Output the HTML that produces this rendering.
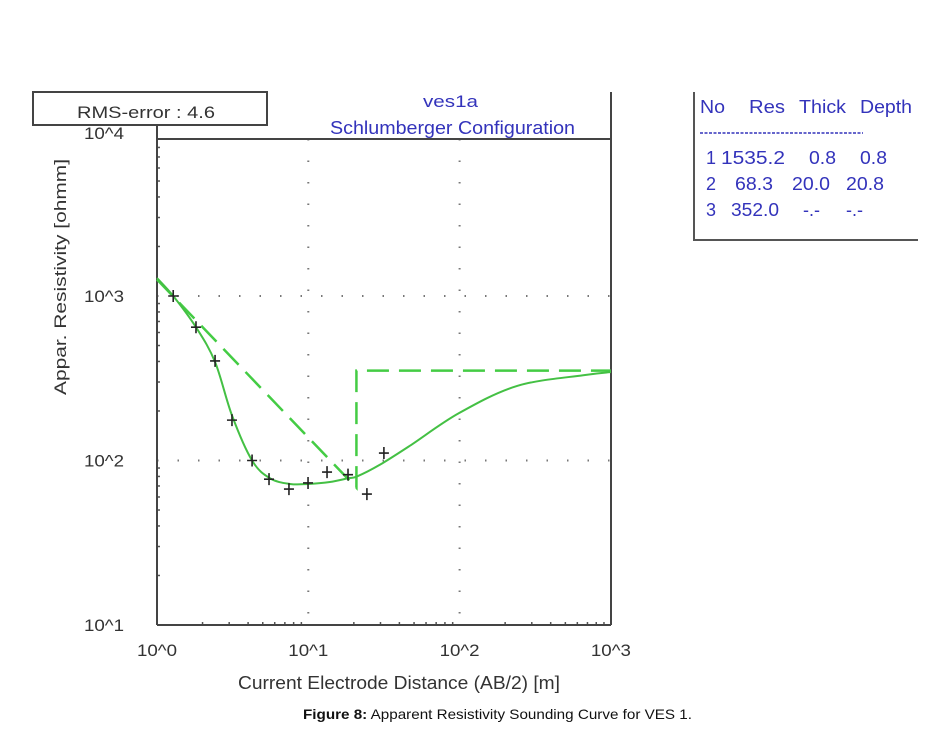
<!DOCTYPE html>
<html><head><meta charset="utf-8"><style>
body{margin:0;background:#fff;}
svg{display:block;font-family:"Liberation Sans",sans-serif;}
</style></head><body>
<svg width="935" height="737" viewBox="0 0 935 737">
<g id="static">
  <rect x="33" y="92" width="234" height="33" fill="#fff" stroke="#444" stroke-width="2"/>
  <text x="77" y="118" font-size="17" textLength="138" lengthAdjust="spacingAndGlyphs" fill="#333">RMS-error :   4.6</text>
  <text x="423" y="107" font-size="17" textLength="55" lengthAdjust="spacingAndGlyphs" fill="#3333bb">ves1a</text>
  <text x="330" y="134" font-size="18" textLength="245" lengthAdjust="spacingAndGlyphs" fill="#3333bb">Schlumberger Configuration</text>
  <text x="66" y="395" font-size="17" textLength="236" lengthAdjust="spacingAndGlyphs" fill="#333" transform="rotate(-90 66 395)">Appar. Resistivity [ohmm]</text>
  <text x="238" y="689" font-size="18" textLength="322" lengthAdjust="spacingAndGlyphs" fill="#333">Current Electrode Distance (AB/2) [m]</text>
  <text x="303" y="719" font-size="14" textLength="389" lengthAdjust="spacingAndGlyphs" fill="#111"><tspan font-weight="bold">Figure 8:</tspan> Apparent Resistivity Sounding Curve for VES 1.</text>
  <g fill="#3333bb" font-size="18" lengthAdjust="spacingAndGlyphs">
    <line x1="694" y1="92" x2="694" y2="241" stroke="#555" stroke-width="2"/>
    <line x1="694" y1="240" x2="918" y2="240" stroke="#555" stroke-width="2"/>
    <text x="700" y="113" textLength="25" lengthAdjust="spacingAndGlyphs">No</text><text x="749" y="113" textLength="36" lengthAdjust="spacingAndGlyphs">Res</text><text x="799" y="113" textLength="47" lengthAdjust="spacingAndGlyphs">Thick</text><text x="860" y="113" textLength="52" lengthAdjust="spacingAndGlyphs">Depth</text>
    <line x1="700" y1="133" x2="863" y2="133" stroke="#3333bb" stroke-width="1.5" stroke-dasharray="3,1.5"/>
    <text x="706" y="164">1</text><text x="721" y="164" textLength="64" lengthAdjust="spacingAndGlyphs">1535.2</text><text x="809" y="164" textLength="27" lengthAdjust="spacingAndGlyphs">0.8</text><text x="860" y="164" textLength="27" lengthAdjust="spacingAndGlyphs">0.8</text>
    <text x="706" y="190">2</text><text x="735" y="190" textLength="38" lengthAdjust="spacingAndGlyphs">68.3</text><text x="792" y="190" textLength="38" lengthAdjust="spacingAndGlyphs">20.0</text><text x="846" y="190" textLength="38" lengthAdjust="spacingAndGlyphs">20.8</text>
    <text x="706" y="216">3</text><text x="731" y="216" textLength="48" lengthAdjust="spacingAndGlyphs">352.0</text><text x="803" y="216">-.-</text><text x="846" y="216">-.-</text>
  </g>
</g>
<g id="plot"></g>
</svg>
<script>
const xDecades=[0,1,2,3];
const yDecades=[1,2,3,4];
const xTickLabels=["10^0","10^1","10^2","10^3"];
const yTickLabels=["10^1","10^2","10^3","10^4"];
const obsX=[1.28,1.81,2.42,3.13,4.25,5.5,7.45,9.96,13.3,18.3,24.4,31.6];
const obsRho=[1000,646,403,176,100,77,67,73,85,82,62.5,111];
const modelX=[1,1.28,1.81,2.42,3.13,4.25,5.58,7.57,9.96,13.9,18.3,21,29.6,47,99,240,656,1000];
const modelRho=[1285,1000,646,397,188,100,78,72,72,74,78,80,94,123,194,284,330,345];
const layerX=[1,20.8,20.8,1000];
const layerRho=[1260,68.3,352,352];

const L=157,R=611,B=625,XD=151.3,YD=164.5;
const sx=v=>L+Math.log10(v)*XD;
const sy=v=>B-(Math.log10(v)-1)*YD;
const g=document.getElementById('plot');
const NS='http://www.w3.org/2000/svg';
function mk(t,a){const e=document.createElementNS(NS,t);for(const k in a)e.setAttribute(k,a[k]);g.appendChild(e);return e;}

xDecades.slice(1,3).forEach(d=>{
  const e=mk('line',{x1:L+d*XD,x2:L+d*XD,y1:139,y2:B,stroke:'#777','stroke-width':2,'stroke-dasharray':'1.5,20'});
  
  
});
yDecades.slice(1,3).forEach(d=>{
  const y=B-(d-1)*YD;
  const e=mk('line',{x1:L,x2:R,y1:y,y2:y,stroke:'#777','stroke-width':2,'stroke-dasharray':'1.5,19'});
  
  
});
for(let d=1;d<4;d++)for(let m=2;m<=9;m++){
  const y=B-(d-1+Math.log10(m))*YD;
  if(y<139)continue;
  const e=mk('line',{x1:L,x2:L+3,y1:y,y2:y,stroke:'#555','stroke-width':1.5});
  
  
}
for(let d=0;d<3;d++)for(let m=2;m<=9;m++){
  const x=L+(d+Math.log10(m))*XD;
  const e=mk('line',{x1:x,x2:x,y1:B,y2:B-3,stroke:'#555','stroke-width':1.5});
  
  
}
[[L,125,L,B],[L,B,R,B],[R,92,R,B],[L,139,R,139]].forEach(a=>{
  const e=mk('line',{x1:a[0],y1:a[1],x2:a[2],y2:a[3],stroke:'#444','stroke-width':2});
  
  
});
xDecades.forEach((d,i)=>{
  const t=mk('text',{x:L+d*XD-20,y:656,'font-size':17,textLength:40,lengthAdjust:'spacingAndGlyphs',fill:'#333'});
  t.textContent=xTickLabels[i];
  
  
});
yDecades.forEach((d,i)=>{
  const y=B-(d-1)*YD;
  const t=mk('text',{x:84,y:Math.max(y+6,139),'font-size':17,textLength:40,lengthAdjust:'spacingAndGlyphs',fill:'#333'});
  t.textContent=yTickLabels[i];
  
  
});
const lp=mk('polyline',{points:layerX.map((x,i)=>sx(x)+','+sy(layerRho[i])).join(' '),fill:'none',stroke:'#4c4','stroke-width':2.5,'stroke-dasharray':'22,10'});


// smooth model curve (Catmull-Rom)
const P=modelX.map((x,i)=>[sx(x),sy(modelRho[i])]);
let d='M'+P[0][0]+' '+P[0][1];
for(let i=0;i<P.length-1;i++){
  const p0=P[Math.max(i-1,0)],p1=P[i],p2=P[i+1],p3=P[Math.min(i+2,P.length-1)];
  d+=` C${p1[0]+(p2[0]-p0[0])/6} ${p1[1]+(p2[1]-p0[1])/6} ${p2[0]-(p3[0]-p1[0])/6} ${p2[1]-(p3[1]-p1[1])/6} ${p2[0]} ${p2[1]}`;
}
const mp=mk('path',{d:d,fill:'none',stroke:'#44c044','stroke-width':2});


obsX.forEach((x,i)=>{
  const cx=sx(x),cy=sy(obsRho[i]);
  const p=mk('path',{d:`M${cx-5} ${cy}H${cx+5}M${cx} ${cy-6}V${cy+6}`,stroke:'#222','stroke-width':1.6});
  
  
});
</script>
</body></html>
